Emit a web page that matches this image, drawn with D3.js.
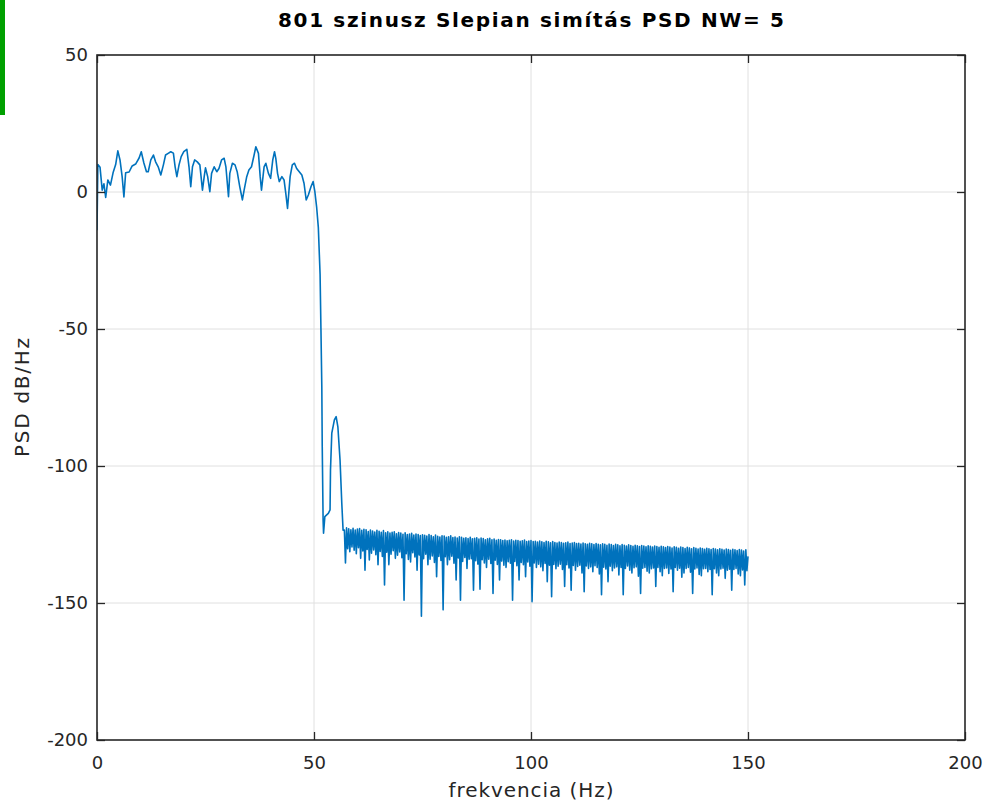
<!DOCTYPE html>
<html>
<head>
<meta charset="utf-8">
<script src="https://cdn.jsdelivr.net/npm/d3@7"></script>
<style>
  body { margin: 0; background: #fff; }
  svg { display: block; }
</style>
</head>
<body>
<svg id="chart" width="987" height="801"></svg>
<script>
// Axis ticks
const xTicks = [0, 50, 100, 150, 200];
const yTicks = [50, 0, -50, -100, -150, -200];

// Pass band and transition: frequency (Hz) and PSD (dB/Hz)
const passFreq = [0, 0.2, 0.7, 1.2, 1.6, 2.0, 2.5, 3.1, 3.7, 4.3, 4.8, 5.3, 5.8, 6.2, 6.6, 7.4, 8.1, 8.9, 9.7,
  10.2, 10.8, 11.4, 11.8, 12.4, 13.0, 13.5, 14.1, 14.7, 15.3, 15.8, 16.4, 17.0, 17.6, 18.0, 18.4, 18.9, 19.4,
  20.0, 20.7, 21.2, 21.6, 22.0, 22.5, 23.1, 23.7, 24.3, 24.7, 25.0, 25.5, 26.0, 26.4, 27.0, 27.6, 28.1, 28.7,
  29.3, 29.7, 30.3, 30.6, 31.2, 31.8, 32.3, 32.9, 33.5, 33.9, 34.5, 35.0, 35.6, 36.2, 36.6, 37.2, 37.6, 37.9,
  38.5, 38.9, 39.5, 40.0, 40.5, 40.9, 41.2, 41.6, 42.0, 42.6, 43.1, 43.5, 43.9, 44.5, 45.0, 45.5, 46.0, 46.6,
  47.2, 47.7, 48.2, 48.7, 49.3, 49.8, 50.2, 50.6, 51.0, 51.4, 51.6, 51.8, 51.9, 52.1, 52.2, 52.5, 53.3, 53.7,
  53.8, 54.1, 54.7, 55.1, 55.5, 56.0, 56.4, 56.7];
const passPsd = [-14, 10, 9, 0.7, 3, -2, 4.4, 2.5, 7, 10, 15, 11.7, 5.5, -1.8, 7, 7.3, 9.5, 10.2, 12.4,
  14.7, 10.6, 7.4, 7.4, 11.7, 13.5, 11, 9.2, 6.2, 9.9, 13.5, 14.1, 14.7, 14.2, 9.2, 5.6, 9.9, 12.9,
  14.7, 15.6, 9.2, 1.9, 9.2, 11.7, 11, 9.9, 0.7, 5.6, 8.8, 5.6, 0.1, 6.8, 9.2, 7.4, 8.6, 11.7,
  12.3, 9.2, -1.7, 6.8, 10.5, 9.9, 7.4, 1.9, -2.9, 0.7, 5.6, 8, 9.2, 13.5, 16.5, 14.1, 5.6, 0.7,
  9.2, 10.5, 6.8, 5, 11.7, 14.7, 12.3, 6.8, 3.8, 5.6, 4.4, -0.5, -6, 5.6, 9.9, 10.5, 8.6, 7.4,
  6.2, 3.2, -2.9, -1.1, 1.9, 3.8, 0.1, -5.4, -13, -30, -50, -71, -93, -120, -124.5, -118.5, -117.3, -116,
  -101.5, -88, -83.2, -82, -85.7, -97.8, -113.5, -123.4];

// Stop band, 57-150 Hz: local maxima on the x.0 / x.5 Hz bins ...
const stopTopStart = 57;
const stopTop = [
  -123.4, -122.6, -122.9, -123.3, -122.7, -123.4, -123.0, -122.8, -123.5, -123.1,   // 57 - 61.5
  -123.3, -123.9, -123.4, -123.7, -124.1, -123.5, -123.8, -124.2, -123.6, -124.4,   // 62 - 66.5
  -124.0, -124.5, -124.2, -124.0, -124.7, -124.3, -124.5, -124.9, -124.4, -125.0,   // 67 - 71.5
  -124.8, -124.6, -125.2, -124.8, -125.0, -125.4, -125.1, -125.3, -125.6, -125.0,   // 72 - 76.5
  -125.4, -125.8, -125.2, -125.7, -125.9, -125.5, -125.6, -126.0, -125.8, -125.5,   // 77 - 81.5
  -126.1, -125.9, -126.3, -125.8, -126.0, -126.4, -126.2, -126.5, -126.0, -126.6,   // 82 - 86.5
  -126.4, -126.2, -126.7, -126.3, -126.5, -126.9, -126.6, -126.4, -126.9, -126.7,   // 87 - 91.5
  -127.1, -126.8, -126.9, -127.2, -127.0, -127.3, -127.1, -126.9, -127.4, -127.1,   // 92 - 96.5
  -127.2, -127.5, -127.3, -127.0, -127.6, -127.4, -127.2, -127.6, -127.5, -127.8,   // 97 - 101.5
  -127.4, -127.7, -127.9, -127.5, -127.7, -128.0, -127.6, -127.9, -128.1, -127.8,   // 102 - 106.5
  -127.9, -128.2, -128.0, -127.8, -128.3, -128.1, -127.9, -128.3, -128.2, -128.5,   // 107 - 111.5
  -128.1, -128.4, -128.6, -128.2, -128.4, -128.7, -128.3, -128.6, -128.8, -128.4,   // 112 - 116.5
  -128.6, -128.9, -128.5, -128.7, -129.0, -128.6, -128.8, -129.1, -128.7, -128.9,   // 117 - 121.5
  -129.2, -128.8, -129.0, -129.3, -128.9, -129.1, -129.4, -129.0, -129.2, -129.5,   // 122 - 126.5
  -129.1, -129.3, -129.6, -129.2, -129.4, -129.7, -129.3, -129.5, -129.8, -129.4,   // 127 - 131.5
  -129.6, -129.9, -129.5, -129.7, -130.0, -129.6, -129.8, -130.1, -129.7, -129.9,   // 132 - 136.5
  -130.2, -129.8, -130.0, -130.3, -129.9, -130.1, -130.4, -130.0, -130.2, -130.5,   // 137 - 141.5
  -130.1, -130.3, -130.6, -130.2, -130.4, -130.7, -130.3, -130.5, -130.8, -130.4,   // 142 - 146.5
  -130.6, -130.9, -130.5, -130.7, -131.0, -130.6, -133.0                            // 147 - 150
];
// ... and the dips between them on the x.25 / x.75 Hz bins
const stopLowStart = 57.25;
const stopLow = [
  -135.4, -130.2, -131.3, -129.5, -130.7, -132.0, -129.8, -133.7, -131.0, -138.0,   // 57.25 - 61.75
  -130.5, -134.3, -131.8, -130.6, -132.4, -136.0, -131.2, -133.0, -143.4, -131.5,   // 62.25 - 66.75
  -136.0, -132.2, -130.9, -133.7, -132.6, -131.4, -133.5, -149.0, -132.0, -134.1,   // 67.25 - 71.75
  -135.0, -131.6, -133.2, -138.0, -132.5, -154.8, -133.8, -132.2, -136.0, -134.0,   // 72.25 - 76.75
  -132.8, -135.2, -140.4, -133.0, -134.5, -152.5, -133.1, -136.0, -134.2, -132.9,   // 77.25 - 81.75
  -135.5, -141.6, -133.6, -149.0, -134.8, -133.4, -137.4, -134.0, -133.8, -145.3,   // 82.25 - 86.75
  -134.6, -135.8, -145.0, -134.2, -135.4, -137.0, -134.0, -135.6, -146.5, -134.4,   // 87.25 - 91.75
  -135.9, -141.6, -134.7, -136.2, -137.0, -134.9, -135.5, -149.0, -134.8, -136.4,   // 92.25 - 96.75
  -141.6, -135.2, -136.0, -140.4, -135.0, -136.6, -149.5, -135.4, -137.0, -135.8,   // 97.25 - 101.75
  -136.8, -138.2, -135.6, -142.2, -136.2, -147.7, -135.9, -137.5, -136.6, -135.8,   // 102.25 - 106.75
  -137.8, -144.0, -136.0, -137.2, -145.3, -136.3, -138.0, -136.7, -136.2, -139.0,   // 107.25 - 111.75
  -145.9, -136.5, -137.4, -136.8, -138.6, -136.4, -137.0, -139.4, -147.0, -136.9,   // 112.25 - 116.75
  -137.6, -142.2, -136.6, -138.2, -137.2, -136.8, -139.8, -137.0, -147.0, -137.4,   // 117.25 - 121.75
  -136.5, -138.0, -139.0, -137.1, -136.8, -140.2, -146.5, -137.3, -137.0, -138.4,   // 122.25 - 126.75
  -139.0, -137.5, -137.2, -144.0, -137.0, -138.6, -140.0, -137.4, -137.2, -139.2,   // 127.25 - 131.75
  -137.6, -145.9, -137.0, -138.0, -137.3, -140.6, -139.0, -137.4, -137.0, -138.8,   // 132.25 - 136.75
  -146.5, -137.6, -137.2, -139.6, -140.0, -137.5, -137.4, -138.6, -137.8, -147.0,   // 137.25 - 141.75
  -137.5, -139.0, -140.0, -137.6, -137.3, -141.0, -138.0, -137.7, -145.3, -137.8,   // 142.25 - 146.75
  -137.4, -139.4, -140.0, -137.9, -143.4, -138.2                                    // 147.25 - 149.75
];

const points = passFreq.map((f, i) => [f, passPsd[i]]);
stopTop.forEach((v, i) => {
  points.push([stopTopStart + i * 0.5, v]);
  if (i < stopLow.length) points.push([stopLowStart + i * 0.5, stopLow[i]]);
});

const plot = { left: 97, right: 965, top: 55, bottom: 740 };
const axisColor = "#262626";
const gridColor = "#e0e0e0";
const lineColor = "#0072bd";
const font = "DejaVu Sans, sans-serif";

const svg = d3.select("#chart");

const x = d3.scaleLinear().domain([0, 200]).range([plot.left, plot.right]);
const y = d3.scaleLinear().domain([-200, 50]).range([plot.bottom, plot.top]);

// Side marker
svg.append("rect").attr("x", 0).attr("y", 0).attr("width", 5).attr("height", 115).attr("fill", "#00a000");

// Grid
const grid = svg.append("g");
grid.selectAll("line.gx").data(xTicks.filter(t => t > 0 && t < 200)).join("line")
  .attr("x1", d => x(d)).attr("x2", d => x(d))
  .attr("y1", plot.top).attr("y2", plot.bottom)
  .attr("stroke", gridColor).attr("stroke-width", 1);
grid.selectAll("line.gy").data(yTicks.filter(t => t > -200 && t < 50)).join("line")
  .attr("x1", plot.left).attr("x2", plot.right)
  .attr("y1", d => y(d)).attr("y2", d => y(d))
  .attr("stroke", gridColor).attr("stroke-width", 1);

// Data line
svg.append("clipPath").attr("id", "plotClip").append("rect")
  .attr("x", plot.left).attr("y", plot.top)
  .attr("width", plot.right - plot.left).attr("height", plot.bottom - plot.top);

const line = d3.line().x(d => x(d[0])).y(d => y(d[1]));
svg.append("path")
  .datum(points)
  .attr("clip-path", "url(#plotClip)")
  .attr("fill", "none")
  .attr("stroke", lineColor)
  .attr("stroke-width", 1.6)
  .attr("stroke-linejoin", "round")
  .attr("d", line);

// Axes (ticks pointing inward on all four sides)
const fmt = d => String(d);
function styleAxis(g, showLabels) {
  g.select(".domain").remove();
  g.selectAll(".tick line").attr("stroke", axisColor).attr("stroke-width", 1.3);
  g.selectAll(".tick text")
    .attr("fill", axisColor)
    .attr("font-family", null)
    .attr("font-size", null)
    .style("font-family", font)
    .style("font-size", "18px");
  if (!showLabels) g.selectAll(".tick text").remove();
}

svg.append("g").attr("transform", `translate(0,${plot.bottom})`)
  .call(d3.axisBottom(x).tickValues(xTicks).tickSize(-8).tickPadding(16).tickFormat(fmt))
  .call(g => styleAxis(g, true));
svg.append("g").attr("transform", `translate(0,${plot.top})`)
  .call(d3.axisTop(x).tickValues(xTicks).tickSize(-8))
  .call(g => styleAxis(g, false));
svg.append("g").attr("transform", `translate(${plot.left},0)`)
  .call(d3.axisLeft(y).tickValues(yTicks).tickSize(-8).tickPadding(9).tickFormat(fmt))
  .call(g => styleAxis(g, true));
svg.append("g").attr("transform", `translate(${plot.right},0)`)
  .call(d3.axisRight(y).tickValues(yTicks).tickSize(-8))
  .call(g => styleAxis(g, false));

// Frame
svg.append("rect")
  .attr("x", plot.left).attr("y", plot.top)
  .attr("width", plot.right - plot.left).attr("height", plot.bottom - plot.top)
  .attr("fill", "none").attr("stroke", axisColor).attr("stroke-width", 1.6);

// Labels
svg.append("text")
  .attr("x", (plot.left + plot.right) / 2).attr("y", 27)
  .attr("text-anchor", "middle")
  .attr("textLength", 506).attr("lengthAdjust", "spacing")
  .style("font-family", font).style("font-size", "20px").style("font-weight", "bold")
  .attr("fill", "#000")
  .text("801 szinusz Slepian simítás PSD NW= 5");

svg.append("text")
  .attr("x", (plot.left + plot.right) / 2).attr("y", 797)
  .attr("text-anchor", "middle")
  .attr("textLength", 165).attr("lengthAdjust", "spacing")
  .style("font-family", font).style("font-size", "20px")
  .attr("fill", axisColor)
  .text("frekvencia (Hz)");

svg.append("text")
  .attr("transform", `translate(29,${(plot.top + plot.bottom) / 2}) rotate(-90)`)
  .attr("text-anchor", "middle")
  .attr("textLength", 119).attr("lengthAdjust", "spacing")
  .style("font-family", font).style("font-size", "20px")
  .attr("fill", axisColor)
  .text("PSD dB/Hz");
</script>
</body>
</html>
